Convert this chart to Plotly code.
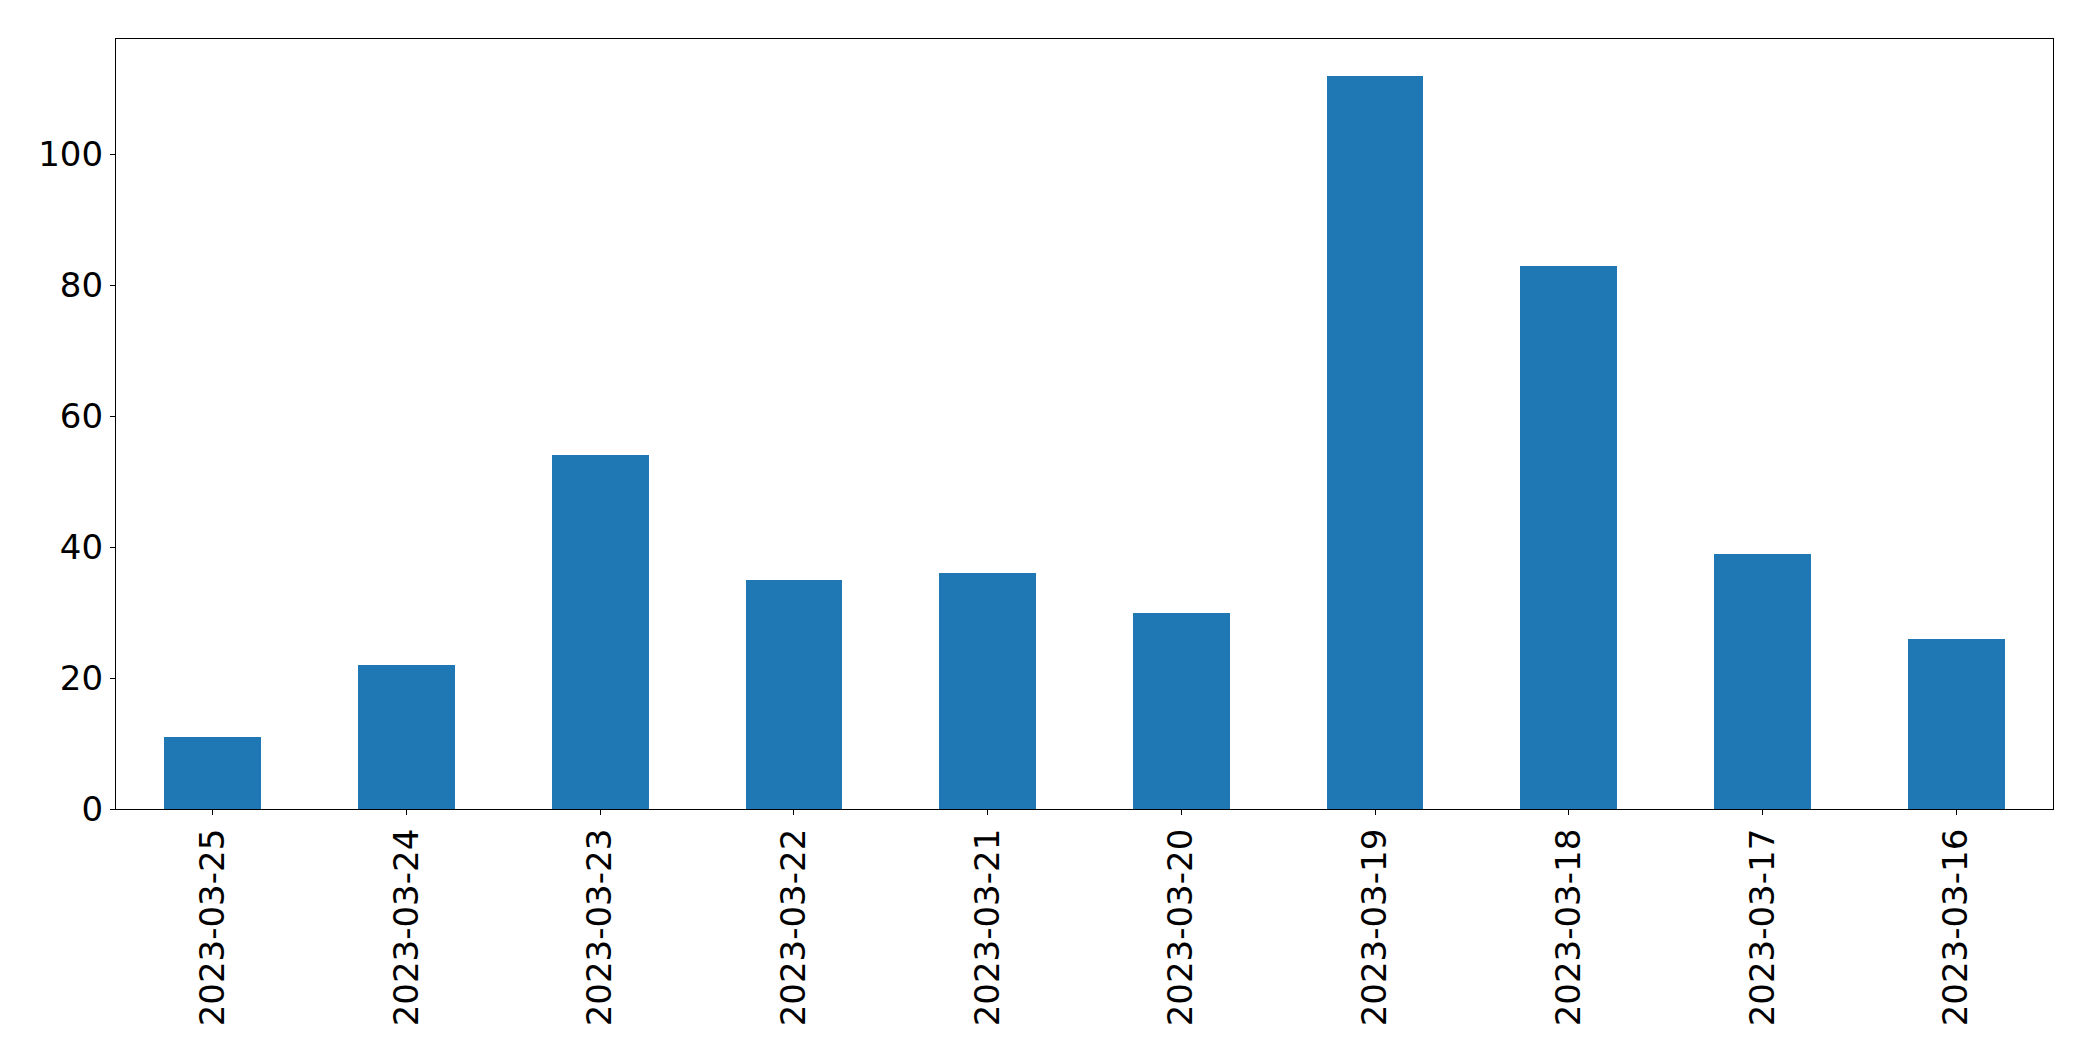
import plotly.graph_objects as go

dates = ["2023-03-25", "2023-03-24", "2023-03-23", "2023-03-22", "2023-03-21",
         "2023-03-20", "2023-03-19", "2023-03-18", "2023-03-17", "2023-03-16"]
counts = [11, 22, 54, 35, 36, 30, 112, 83, 39, 26]
y_ticks = [0, 20, 40, 60, 80, 100]

fig = go.Figure(go.Bar(x=dates, y=counts, width=0.5, marker=dict(color="#1f77b4", line=dict(width=0))))

fig.update_layout(
    width=2093, height=1061,
    margin=dict(l=108, r=48, t=31, b=260),
    plot_bgcolor="white", paper_bgcolor="white",
    font=dict(family="DejaVu Sans", size=34, color="black"),
    showlegend=False,
    bargap=0,
)
fig.update_xaxes(
    type="category", range=[-0.5, len(dates) - 0.5], tickangle=-90,
    showline=True, linecolor="black", linewidth=1.3, mirror=True,
    ticks="outside", ticklen=5, tickwidth=1.3, tickcolor="black",
    showgrid=False, zeroline=False,
)
fig.update_yaxes(
    range=[0, 117.6], tickvals=y_ticks,
    showline=True, linecolor="black", linewidth=1.3, mirror=True,
    ticks="outside", ticklen=5, tickwidth=1.3, tickcolor="black",
    showgrid=False, zeroline=False,
)

fig.write_html("out.html")
